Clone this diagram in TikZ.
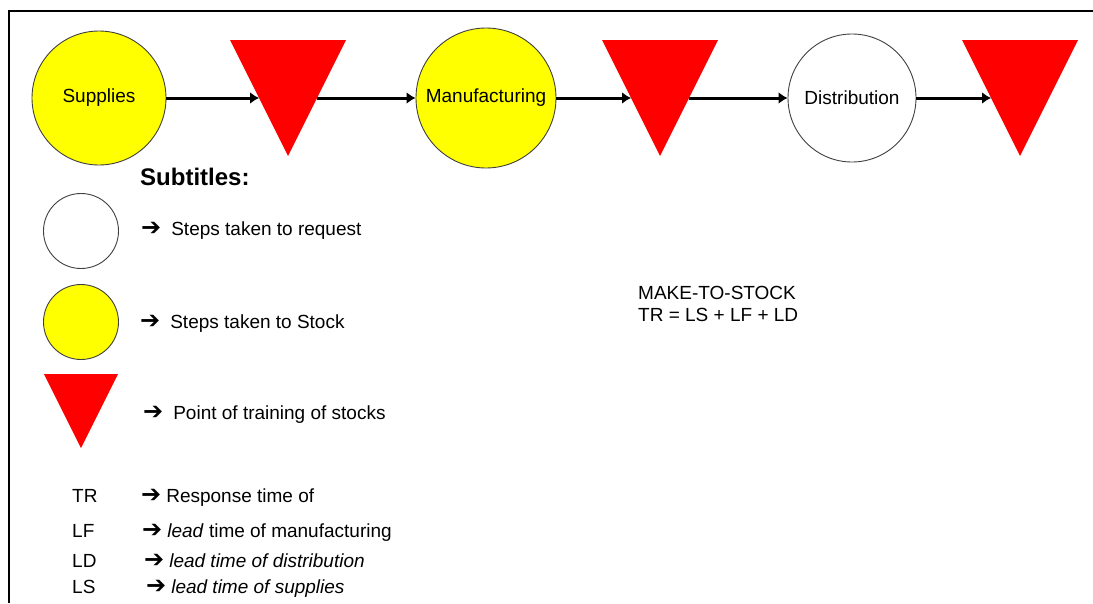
\documentclass[tikz,border=0pt]{standalone}
\usepackage{fontspec}
\setmainfont{Liberation Sans}
\newfontfamily\arrowfont{DejaVu Sans}
\usepackage{tikz}
\usetikzlibrary{shapes,arrows.meta,positioning}

\definecolor{stockyellow}{RGB}{255,255,0}
\definecolor{stockred}{RGB}{255,0,0}
\newcommand{\pointer}{{\arrowfont\bfseries\fontsize{24}{23}\selectfont ➔}}

\begin{document}
\begin{tikzpicture}[x=1pt, y=-1pt,
    txt/.style={font=\fontsize{19}{23}\selectfont, inner sep=0pt},
    head/.style={font=\bfseries\fontsize{24}{28}\selectfont, inner sep=0pt},
    stage/.style={circle, draw=black!75, line width=0.9pt, inner sep=0pt, font=\fontsize{19}{23}\selectfont},
    stock/.style={isosceles triangle, isosceles triangle stretches, shape border rotate=270, fill=stockred, inner sep=0pt, outer sep=0pt},
    flow/.style={line width=3pt, -{Latex[length=9pt,width=12pt]}}]
    \useasboundingbox (0,0) rectangle (1093,603);
    \draw[line width=1.8pt] (9,603) -- (9,11) -- (1093,11);

    % chain
    \node[stage, fill=stockyellow, minimum size=134pt] (sup) at (99,98) {Supplies};
    \node[stock, minimum width=116pt, minimum height=116pt, anchor=apex] (stock1) at (288,156) {};
    \node[stage, fill=stockyellow, minimum size=140pt] (man) at (486,98) {Manufacturing};
    \node[stock, minimum width=116pt, minimum height=116pt, anchor=apex] (stock2) at (660,156) {};
    \node[stage, minimum size=128pt] (dist) at (852,98) {Distribution};
    \node[stock, minimum width=116pt, minimum height=116pt, anchor=apex] (stock3) at (1020,156) {};

    \draw[flow] (sup) -- (stock1.right side);
    \draw[flow] (stock1.left side) -- (man);
    \draw[flow] (man) -- (stock2.right side);
    \draw[flow] (stock2.left side) -- (dist);
    \draw[flow] (dist) -- (stock3.right side);

    % legend
    \node[head, anchor=base west] (subtitles) at (140,185) {Subtitles:};
    \node[stage, minimum size=75pt] (reqkey) at (81,231) {};
    \node[txt, anchor=base west] (reqtxt) at (141,235) {\pointer\hspace{10pt}Steps taken to request};
    \node[stage, fill=stockyellow, minimum size=75pt] (stockkey) at (81,322) {};
    \node[txt, anchor=base west] (stocktxt) at (140,328) {\pointer\hspace{10pt}Steps taken to Stock};
    \node[stock, minimum width=74pt, minimum height=74pt, anchor=apex] (pointkey) at (81,448) {};
    \node[txt, anchor=base west] (pointtxt) at (143,419) {\pointer\hspace{10pt}Point of training of stocks};

    \node[txt, anchor=base west] (mts) at (638,299) {MAKE-TO-STOCK};
    \node[txt, anchor=base west] (formula) at (638,321) {TR = LS + LF + LD};

    % abbreviations
    \node[txt, anchor=base west] (trkey) at (72,502) {TR};
    \node[txt, anchor=base west] (trtxt) at (141,502) {\pointer\hspace{5pt}Response time of};
    \node[txt, anchor=base west] (lfkey) at (72,537) {LF};
    \node[txt, anchor=base west] (lftxt) at (142,537) {\pointer\hspace{5pt}\textit{lead} time of manufacturing};
    \node[txt, anchor=base west] (ldkey) at (72,567) {LD};
    \node[txt, anchor=base west] (ldtxt) at (144,567) {\pointer\hspace{5pt}\textit{lead time of distribution}};
    \node[txt, anchor=base west] (lskey) at (72,593) {LS};
    \node[txt, anchor=base west] (lstxt) at (146,593) {\pointer\hspace{5pt}\textit{lead time of supplies}};
\end{tikzpicture}
\end{document}
